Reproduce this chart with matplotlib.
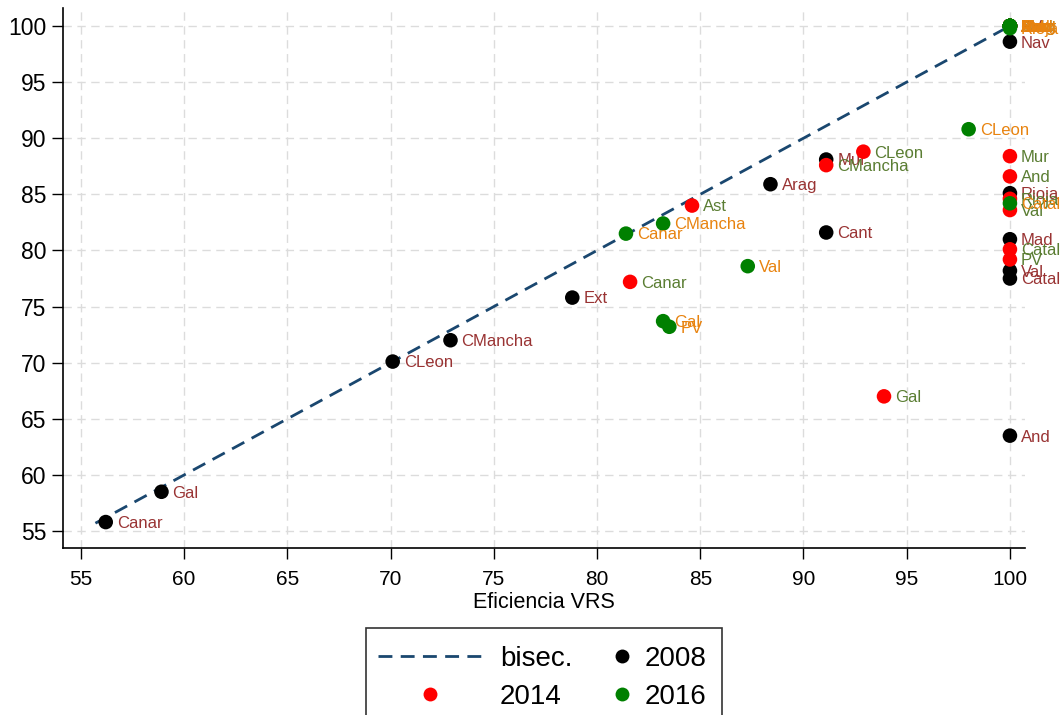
import matplotlib
matplotlib.use("Agg")
import matplotlib.pyplot as plt
from matplotlib.lines import Line2D
from matplotlib.patches import Rectangle

plt.rcParams['font.family'] = ['Liberation Sans', 'DejaVu Sans']

# ---- data ----
reg_2008 = ["Canar", "Gal", "CLeon", "CMancha", "Ext", "Arag", "Mur", "Cant",
            "Rioja", "Mad", "Val", "Catal", "And", "Nav", "Ast", "Bal", "PV"]
x_2008 = [56.2, 58.9, 70.1, 72.9, 78.8, 88.4, 91.1, 91.1,
          100, 100, 100, 100, 100, 100, 100, 100, 100]
y_2008 = [55.8, 58.5, 70.1, 72.0, 75.8, 85.9, 88.1, 81.6,
          85.1, 81.0, 78.2, 77.5, 63.5, 98.6, 100, 100, 100]

reg_2014 = ["Canar", "Ast", "CMancha", "CLeon", "Gal", "Mur", "And", "Rioja",
            "Val", "Catal", "PV", "Arag", "Bal", "Cant", "Ext", "Mad", "Nav"]
x_2014 = [81.6, 84.6, 91.1, 92.9, 93.9, 100, 100, 100,
          100, 100, 100, 100, 100, 100, 100, 100, 100]
y_2014 = [77.2, 84.0, 87.6, 88.8, 67.0, 88.4, 86.6, 84.6,
          83.6, 80.1, 79.2, 100, 100, 100, 100, 100, 100]

reg_2016 = ["Canar", "CMancha", "Val", "Gal", "PV", "CLeon", "Catal", "And",
            "Arag", "Ast", "Bal", "Cant", "Ext", "Mad", "Mur", "Nav", "Rioja"]
x_2016 = [81.4, 83.2, 87.3, 83.2, 83.5, 98.0, 100, 100,
          100, 100, 100, 100, 100, 100, 100, 100, 100]
y_2016 = [81.5, 82.4, 78.6, 73.7, 73.2, 90.8, 84.2, 100,
          100, 100, 100, 100, 100, 100, 100, 100, 99.8]

bisec = [55.7, 100]
x_ticks = [55, 60, 65, 70, 75, 80, 85, 90, 95, 100]
y_ticks = [55, 60, 65, 70, 75, 80, 85, 90, 95, 100]

W, H = 1062, 715
fig = plt.figure(figsize=(W / 100, H / 100), dpi=100)
ax = fig.add_axes([63 / W, 1 - 548 / H, (1025 - 63) / W, (548 - 8) / H])
ax.set_xlim(54.13, 100.73)
ax.set_ylim(53.49, 101.6)

for s in ['top', 'right']:
    ax.spines[s].set_visible(False)
for s in ['left', 'bottom']:
    ax.spines[s].set_linewidth(1.2)
    ax.spines[s].set_color('black')

ax.set_xticks(x_ticks)
ax.set_yticks(y_ticks)
ax.set_xticklabels([str(t) for t in x_ticks], fontsize=15)
ax.set_yticklabels([str(t) for t in y_ticks], fontsize=16.5)
ax.tick_params(axis='both', length=8, width=1.0, color='black', pad=4)
ax.tick_params(axis='x', pad=8)
ax.grid(True, color='#dcdcdc', linestyle=(0, (6, 4)), linewidth=1.0)
ax.set_axisbelow(True)
ax.set_xlabel("Eficiencia VRS", fontsize=15.5, labelpad=2)

navy = '#1a476f'
ax.plot(bisec, bisec, color=navy, linestyle=(0, (5, 3)), linewidth=2.0, zorder=2)

series = [
    (reg_2008, x_2008, y_2008, 'black', '#993333'),
    (reg_2014, x_2014, y_2014, '#ff0000', '#5a7d32'),
    (reg_2016, x_2016, y_2016, '#008000', '#e8830f'),
]
z = 3
for regs, xs, ys, c, lc in series:
    ax.scatter(xs, ys, s=110, color=c, edgecolors='none', zorder=z, clip_on=False)
    for r, xv, yv in zip(regs, xs, ys):
        ax.annotate(r, (xv, yv), xytext=(8, -1), textcoords='offset points',
                    va='center', ha='left', fontsize=12, color=lc, zorder=z + 0.5,
                    annotation_clip=False)
    z += 1

# ---- legend (manual, Stata-like) ----
tf = fig.transFigure
def fx(px): return px / W
def fy(py): return 1 - py / H

fig.add_artist(Rectangle((fx(366), fy(760)), fx(722) - fx(366), fy(628) - fy(760),
                         transform=tf, facecolor='white', edgecolor='#333333',
                         linewidth=1.2))
fig.add_artist(Line2D([fx(378), fx(482)], [fy(656), fy(656)], transform=tf,
                      color=navy, linestyle=(0, (5, 3)), linewidth=2.0))
fig.add_artist(Line2D([fx(430)], [fy(694)], transform=tf, marker='o', markersize=10,
                      color='#ff0000', markeredgewidth=0, linestyle='none'))
fig.add_artist(Line2D([fx(622)], [fy(656)], transform=tf, marker='o', markersize=10,
                      color='black', markeredgewidth=0, linestyle='none'))
fig.add_artist(Line2D([fx(622)], [fy(694)], transform=tf, marker='o', markersize=10,
                      color='#008000', markeredgewidth=0, linestyle='none'))
for txt, px, py in [("bisec.", 500, 656), ("2014", 500, 694),
                    ("2008", 645, 656), ("2016", 645, 694)]:
    fig.text(fx(px), fy(py), txt, transform=tf, fontsize=20, va='center_baseline',
             ha='left', color='black')

fig.savefig("out.png", dpi=100)
